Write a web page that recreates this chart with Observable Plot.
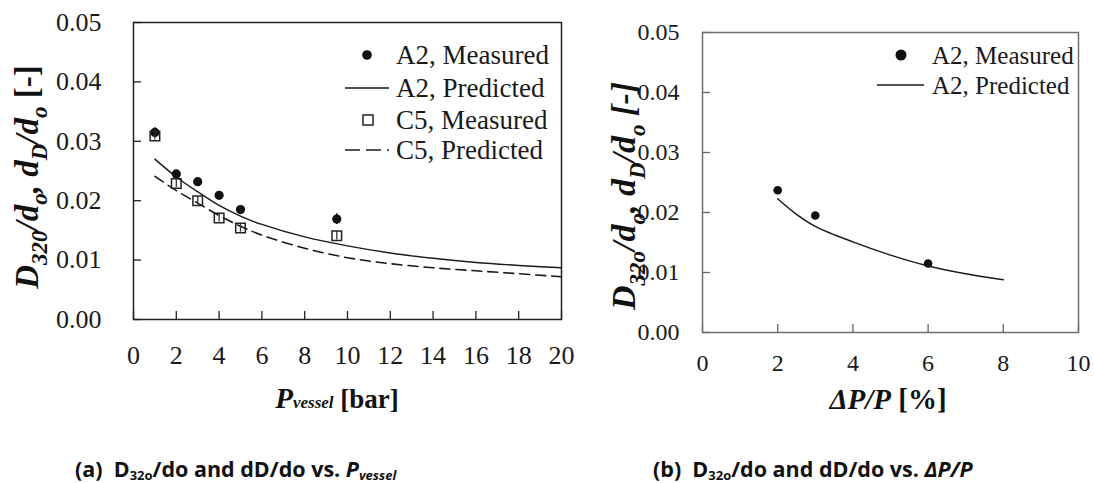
<!DOCTYPE html>
<html>
<head>
<meta charset="utf-8">
<script src="https://cdn.jsdelivr.net/npm/d3@7"></script>
<script src="https://cdn.jsdelivr.net/npm/@observablehq/plot@0.6"></script>
<style>
  html, body { margin: 0; padding: 0; background: #fff; }
  body { width: 1094px; height: 483px; position: relative; overflow: hidden; }
  #panelA { position: absolute; left: 0; top: 0; }
  #panelB { position: absolute; left: 580px; top: 0; }
  .cap {
    position: absolute; top: 459px; white-space: pre;
    font-family: "Open Sans", sans-serif; font-weight: 700; font-size: 21.5px;
    line-height: 20px; color: #111;
  }
  .cap sub { font-size: 13px; vertical-align: -3px; line-height: 0; }
</style>
</head>
<body>
<div id="panelA"></div>
<div id="panelB"></div>
<div class="cap" style="left:75px">(a)  D<sub>32o</sub>/do and dD/do vs. <i>P<sub>vessel</sub></i></div>
<div class="cap" style="left:653px">(b)  D<sub>32o</sub>/do and dD/do vs. <i>ΔP/P</i></div>
<script>
// ---- Panel (a): droplet size ratios against vessel pressure ----
const pVesselMeasured = [1, 2, 3, 4, 5, 9.5];
const a2Measured      = [0.0315, 0.0245, 0.0232, 0.0209, 0.0185, 0.0169];
const a2MeasuredErr   = [0.0008, 0.0005, 0.0005, 0.0004, 0.0005, 0.0009];
const c5Measured      = [0.0309, 0.0229, 0.0200, 0.0171, 0.0154, 0.0141];
const c5MeasuredErr   = [0.0007, 0.0007, 0.0007, 0.0007, 0.0007, 0.0007];

const pVesselPredicted = [1, 2, 3, 4, 5, 6, 8, 10, 12, 14, 16, 18, 20];
const a2Predicted = [0.0270, 0.0240, 0.0215, 0.0192, 0.0174, 0.0160, 0.0139, 0.0124, 0.0112, 0.0103, 0.0096, 0.0091, 0.0087];
const c5Predicted = [0.0241, 0.0217, 0.0196, 0.0175, 0.0157, 0.0142, 0.0120, 0.0104, 0.0094, 0.0087, 0.0082, 0.0077, 0.0072];

const xTicksA = [0, 2, 4, 6, 8, 10, 12, 14, 16, 18, 20];
const yTicks  = [0, 0.01, 0.02, 0.03, 0.04, 0.05];
const legendA = ["A2, Measured", "A2, Predicted", "C5, Measured", "C5, Predicted"];

// ---- Panel (b): droplet size ratio against relative pressure drop ----
const dpMeasured   = [2, 3, 6];
const a2MeasuredB  = [0.0237, 0.0195, 0.0115];
const dpPredicted  = [2, 2.5, 3, 4, 5, 6, 7, 8];
const a2PredictedB = [0.0223, 0.0197, 0.0177, 0.0151, 0.0129, 0.0111, 0.0098, 0.0088];

const xTicksB = [0, 2, 4, 6, 8, 10];
const legendB = ["A2, Measured", "A2, Predicted"];

const serif = "Liberation Serif";
const fmt = d3.format(".2f");

const rowsA = (xs, ys, errs) => xs.map((x, i) => ({x, y: ys[i], e: errs ? errs[i] : 0}));

// Tick labels as plain text marks anchored to the frame edges.
function tickLabels({xs, ys, size, xdy, ydx}) {
  return [
    Plot.text(xs, {x: d => d, frameAnchor: "bottom", dy: xdy, text: d => String(d),
      fontFamily: serif, fontSize: size, fontVariant: "normal", fill: "#1a1a1a", lineAnchor: "middle"}),
    Plot.text(ys, {y: d => d, frameAnchor: "left", dx: ydx, text: d => fmt(d), textAnchor: "end",
      fontFamily: serif, fontSize: size, fontVariant: "normal", fill: "#1a1a1a", lineAnchor: "middle"})
  ];
}

// Append a text element built from styled pieces (subscripts shift down).
function richText(svg, {x, y, rotate = 0, anchor = "middle", size, parts, fill = "#111"}) {
  const t = d3.select(svg).append("text")
    .attr("transform", `translate(${x},${y})` + (rotate ? ` rotate(${rotate})` : ""))
    .attr("text-anchor", anchor)
    .attr("font-family", serif)
    .attr("font-size", size)
    .attr("fill", fill);
  let shift = 0;
  for (const p of parts) {
    const s = t.append("tspan").text(p.t);
    if (p.b) s.attr("font-weight", "bold");
    if (p.i) s.attr("font-style", "italic");
    if (p.s) s.attr("font-size", p.s);
    const target = p.sub ? size * 0.28 : 0;
    if (target !== shift) { s.attr("dy", target - shift); shift = target; }
  }
  return t;
}

// ---------------- Panel (a) ----------------
{
  const W = 580, H = 420, mL = 133, mR = 19, mT = 22, mB = 101;
  const fw = W - mL - mR, fh = H - mT - mB;
  const a2m = rowsA(pVesselMeasured, a2Measured, a2MeasuredErr);
  const c5m = rowsA(pVesselMeasured, c5Measured, c5MeasuredErr);
  const a2p = rowsA(pVesselPredicted, a2Predicted);
  const c5p = rowsA(pVesselPredicted, c5Predicted);

  const chart = Plot.plot({
    width: W, height: H,
    marginLeft: mL, marginRight: mR, marginTop: mT, marginBottom: mB,
    style: {fontFamily: serif, fontSize: "26px", color: "#1a1a1a", background: "transparent", overflow: "visible"},
    x: {domain: [0, 20], axis: null},
    y: {domain: [0, 0.05], axis: null},
    marks: [
      ...tickLabels({xs: xTicksA, ys: yTicks, size: 26, xdy: 36, ydx: -32}),
      Plot.tickX(xTicksA, {x: d => d, insetTop: fh - 8, stroke: "#222", strokeWidth: 1.3}),
      Plot.tickY(yTicks, {y: d => d, insetRight: fw - 8, stroke: "#222", strokeWidth: 1.3}),
      Plot.line(a2p, {x: "x", y: "y", curve: "catmull-rom", stroke: "#1a1a1a", strokeWidth: 1.4}),
      Plot.line(c5p, {x: "x", y: "y", curve: "catmull-rom", stroke: "#1a1a1a", strokeWidth: 1.6, strokeDasharray: "10,6"}),
      Plot.ruleX(a2m, {x: "x", y1: d => d.y - d.e, y2: d => d.y + d.e, stroke: "#111", strokeWidth: 1.5}),
      Plot.dot(a2m, {x: "x", y: "y", r: 4.6, fill: "#111", stroke: "none"}),
      Plot.ruleX(c5m, {x: "x", y1: d => d.y - d.e, y2: d => d.y + d.e, stroke: "#333", strokeWidth: 1.3}),
      Plot.dot(c5m, {x: "x", y: "y", symbol: "square", r: 5.4, fill: "none", stroke: "#222", strokeWidth: 1.5}),
      Plot.frame({stroke: "#222", strokeWidth: 1.5})
    ]
  });
  document.getElementById("panelA").append(chart);
  const svg = chart;

  // legend
  const g = d3.select(svg).append("g").attr("font-family", serif).attr("font-size", 27)
    .attr("fill", "#1a1a1a").attr("text-anchor", "start");
  const lx = 396, rows = [55, 88, 120, 150];
  legendA.forEach((label, i) => {
    g.append("text").attr("x", lx).attr("y", rows[i]).attr("dy", "0.34em").text(label);
  });
  g.append("circle").attr("cx", 367).attr("cy", rows[0]).attr("r", 4.8).attr("fill", "#111");
  g.append("line").attr("x1", 345).attr("x2", 389).attr("y1", rows[1]).attr("y2", rows[1]).attr("stroke", "#1a1a1a").attr("stroke-width", 1.5);
  g.append("rect").attr("x", 363).attr("y", rows[2] - 5).attr("width", 10).attr("height", 10).attr("fill", "none").attr("stroke", "#222").attr("stroke-width", 1.5);
  g.append("line").attr("x1", 345).attr("x2", 389).attr("y1", rows[3]).attr("y2", rows[3]).attr("stroke", "#1a1a1a").attr("stroke-width", 1.6).attr("stroke-dasharray", "15,6");

  // axis titles
  richText(svg, {x: 38, y: 177, rotate: -90, size: 33, parts: [
    {t: "D", b: 1, i: 1}, {t: "320", b: 1, i: 1, sub: 1, s: 23}, {t: "/d", b: 1, i: 1}, {t: "o", b: 1, i: 1, sub: 1, s: 23},
    {t: ", d", b: 1, i: 1}, {t: "D", b: 1, i: 1, sub: 1, s: 23}, {t: "/d", b: 1, i: 1}, {t: "o", b: 1, i: 1, sub: 1, s: 23},
    {t: " [-]", b: 1}
  ]});
  richText(svg, {x: 337, y: 408, size: 27, parts: [
    {t: "P", b: 1, i: 1, s: 29}, {t: "vessel", b: 1, i: 1, s: 17}, {t: " [bar]", b: 1}
  ]});
}

// ---------------- Panel (b) ----------------
{
  const W = 514, H = 420, mL = 122, mR = 16, mT = 32, mB = 88;
  const fw = W - mL - mR, fh = H - mT - mB;
  const meas = rowsA(dpMeasured, a2MeasuredB);
  const pred = rowsA(dpPredicted, a2PredictedB);

  const chart = Plot.plot({
    width: W, height: H,
    marginLeft: mL, marginRight: mR, marginTop: mT, marginBottom: mB,
    style: {fontFamily: serif, fontSize: "24px", color: "#1a1a1a", background: "transparent", overflow: "visible"},
    x: {domain: [0, 10], axis: null},
    y: {domain: [0, 0.05], axis: null},
    marks: [
      ...tickLabels({xs: xTicksB, ys: yTicks, size: 24, xdy: 31, ydx: -23}),
      Plot.tickX(xTicksB, {x: d => d, insetTop: fh - 8, stroke: "#666", strokeWidth: 1.3}),
      Plot.tickY(yTicks, {y: d => d, insetRight: fw - 8, stroke: "#666", strokeWidth: 1.3}),
      Plot.line(pred, {x: "x", y: "y", curve: "catmull-rom", stroke: "#1a1a1a", strokeWidth: 1.5}),
      Plot.dot(meas, {x: "x", y: "y", r: 4.3, fill: "#111", stroke: "none"}),
      Plot.frame({stroke: "#6e6e6e", strokeWidth: 1.5})
    ]
  });
  document.getElementById("panelB").append(chart);
  const svg = chart;

  // legend
  const g = d3.select(svg).append("g").attr("font-family", serif).attr("font-size", 25)
    .attr("fill", "#1a1a1a").attr("text-anchor", "start");
  const lx = 352, rows = [55, 85];
  legendB.forEach((label, i) => {
    g.append("text").attr("x", lx).attr("y", rows[i]).attr("dy", "0.34em").text(label);
  });
  g.append("circle").attr("cx", 321).attr("cy", rows[0]).attr("r", 5.5).attr("fill", "#111");
  g.append("line").attr("x1", 297).attr("x2", 344).attr("y1", rows[1]).attr("y2", rows[1]).attr("stroke", "#1a1a1a").attr("stroke-width", 1.6);

  // axis titles
  richText(svg, {x: 55, y: 196, rotate: -90, size: 34, parts: [
    {t: "D", b: 1, i: 1}, {t: "32o", b: 1, i: 1, sub: 1, s: 23}, {t: "/d", b: 1, i: 1}, {t: "o", b: 1, i: 1, sub: 1, s: 23},
    {t: ", d", b: 1, i: 1}, {t: "D", b: 1, i: 1, sub: 1, s: 23}, {t: "/d", b: 1, i: 1}, {t: "o", b: 1, i: 1, sub: 1, s: 23},
    {t: " [-]", b: 1, i: 1}
  ]});
  richText(svg, {x: 308, y: 409, size: 29, parts: [
    {t: "ΔP/P", b: 1, i: 1}, {t: " [%]", b: 1}
  ]});
}
</script>
</body>
</html>
